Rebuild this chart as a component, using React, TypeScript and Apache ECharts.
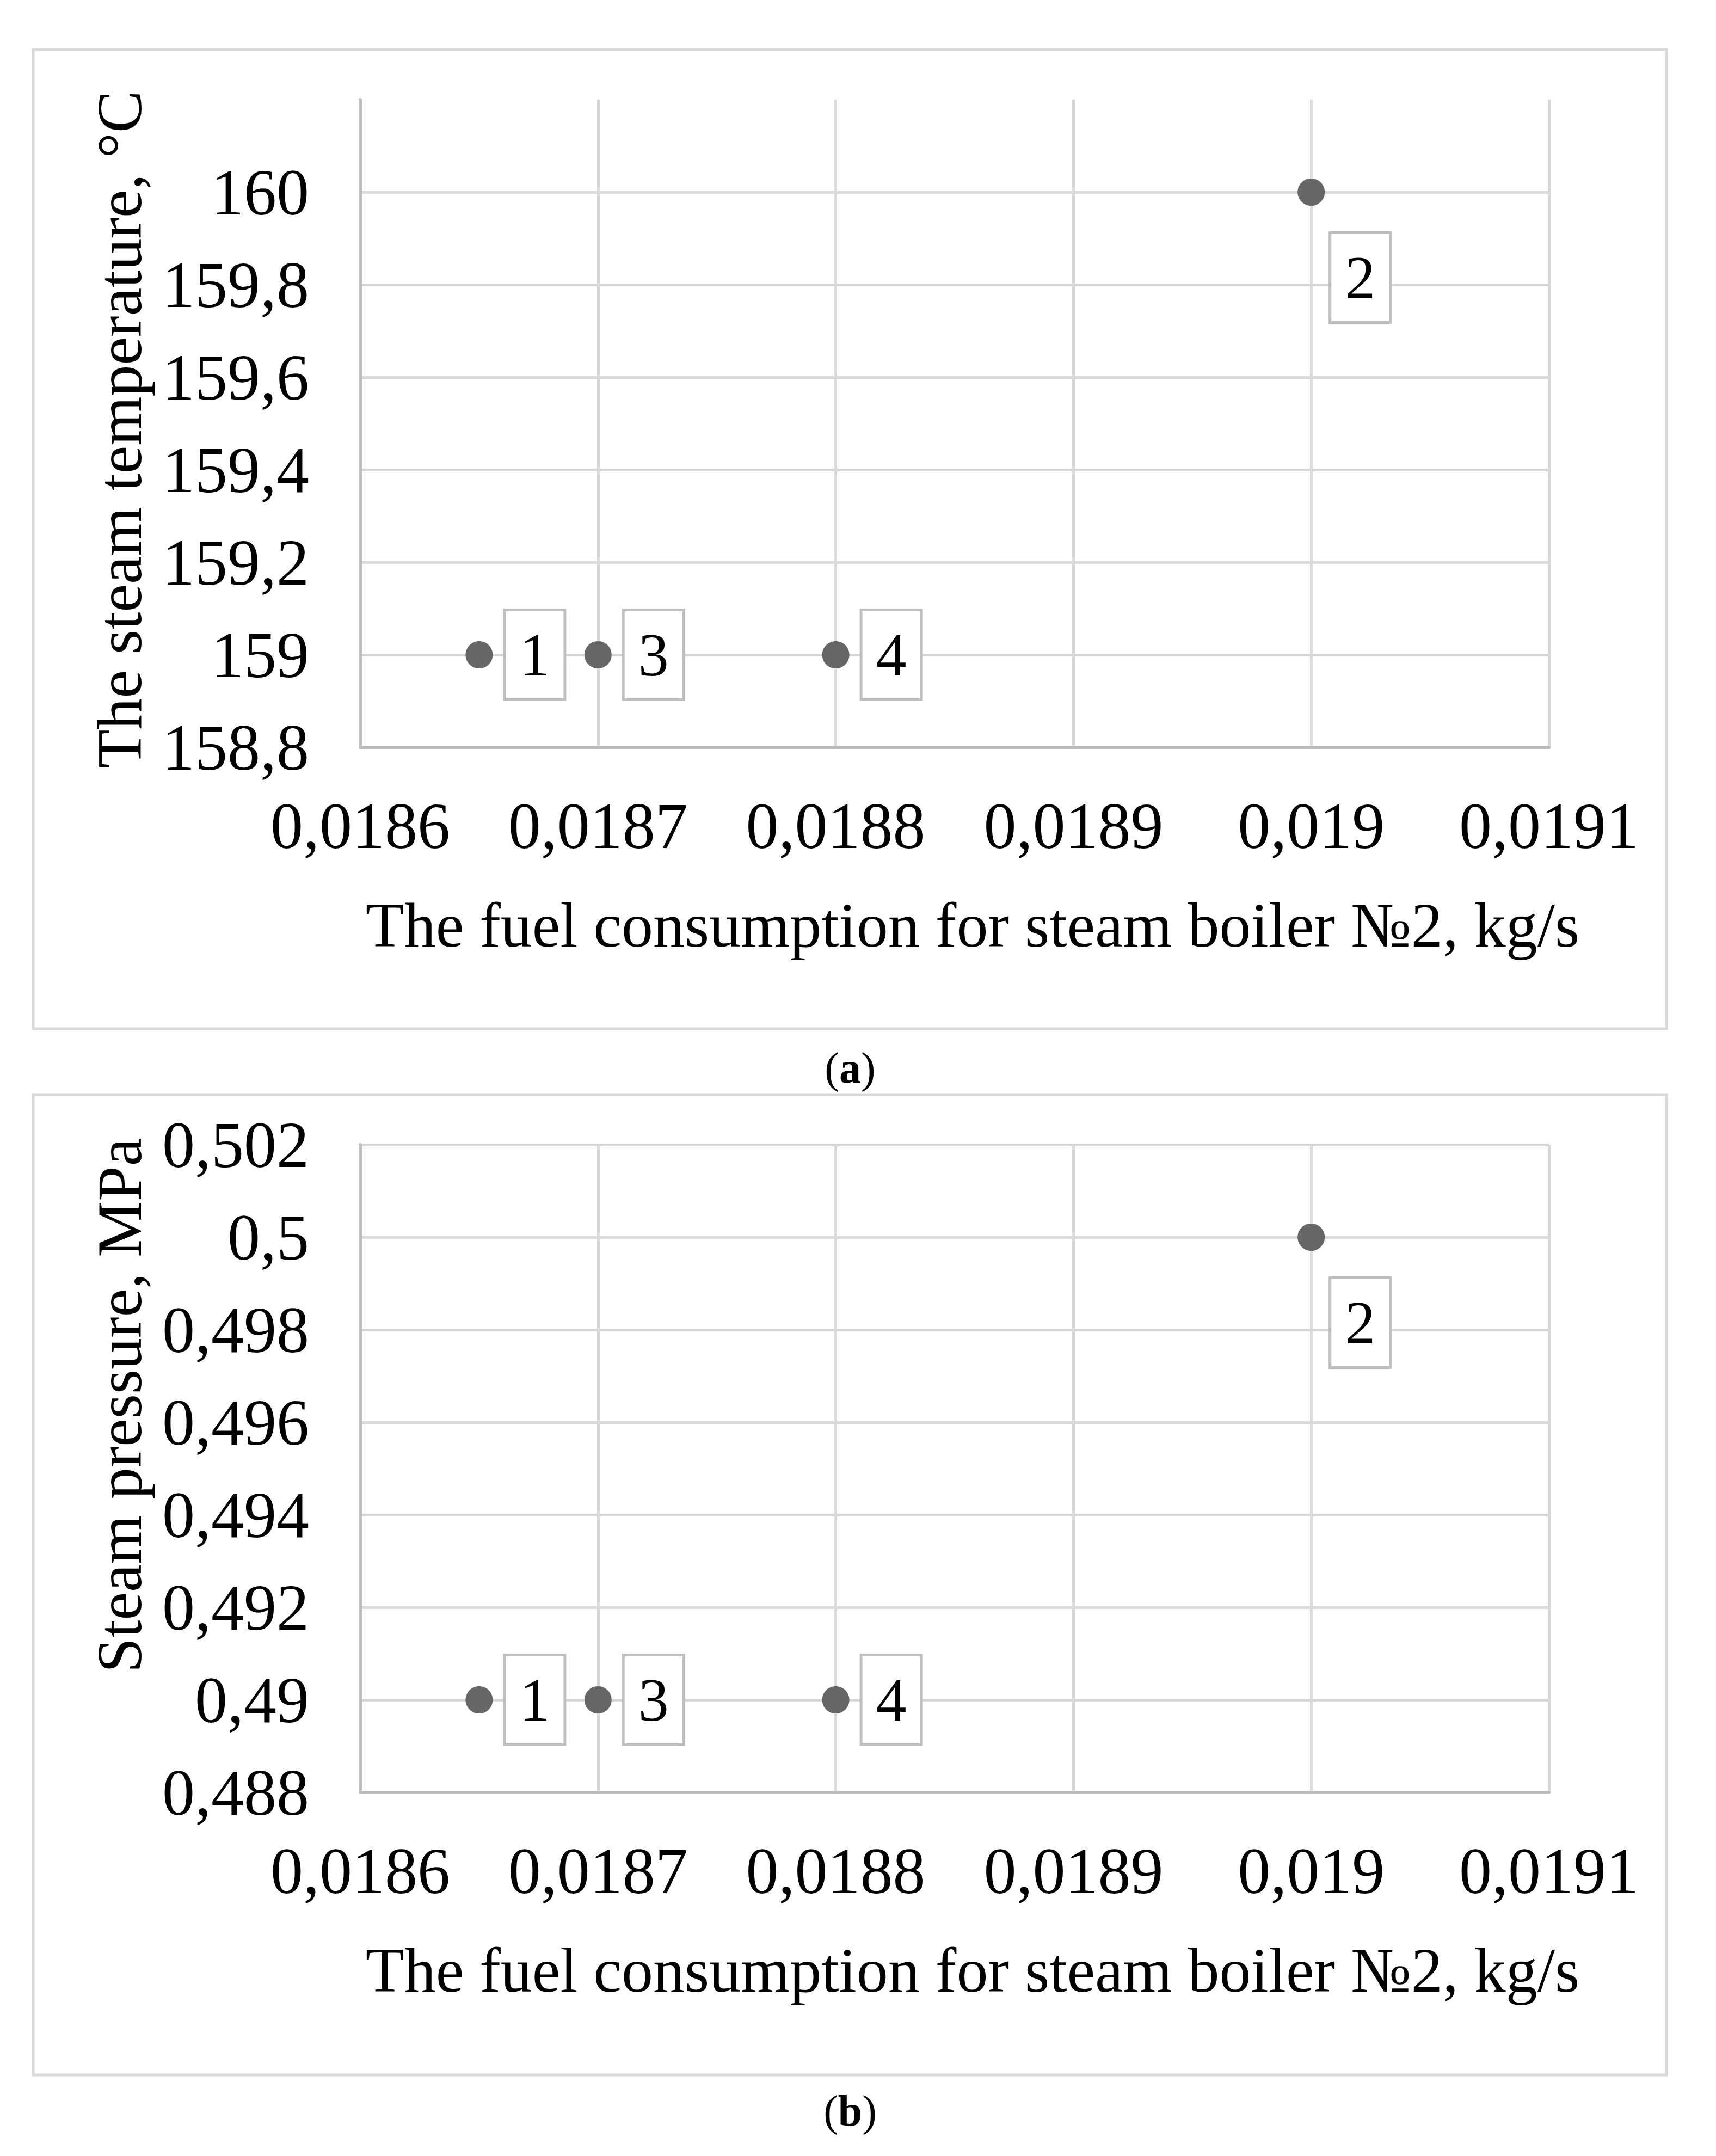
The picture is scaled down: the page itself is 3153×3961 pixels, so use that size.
import React, { useEffect, useRef } from "react";
import * as echarts from "echarts";

// ---- data ----
const pointIds = ["1", "2", "3", "4"];
const fuelConsumption = [0.01865, 0.019, 0.0187, 0.0188];
const steamTemperature = [159, 160, 159, 159];
const steamPressure = [0.49, 0.5, 0.49, 0.49];

const xTickLabels = ["0,0186", "0,0187", "0,0188", "0,0189", "0,019", "0,0191"];
const yTickLabelsA = ["158,8", "159", "159,2", "159,4", "159,6", "159,8", "160"];
const yTickLabelsB = ["0,488", "0,49", "0,492", "0,494", "0,496", "0,498", "0,5", "0,502"];

const xTitle = "The fuel consumption for steam boiler №2, kg/s";
const yTitleA = "The steam temperature, °C";
const yTitleB = "Steam pressure, MPa";

const W = 3153;
const H = 3961;
const FONT = "'Liberation Serif', 'Times New Roman', serif";
const TICK_FS = 120;
const TITLE_FS = 116;

function tickFormatter(labels: string[], min: number, interval: number) {
  return (v: number) => {
    const i = Math.round((v - min) / interval);
    return labels[i] ?? "";
  };
}

function buildXAxis(gridIndex: number) {
  return {
    type: "value",
    gridIndex,
    min: 0.0186,
    max: 0.0191,
    interval: 0.0001,
    axisLine: { show: true, lineStyle: { color: "#bfbfbf", width: 6 } },
    axisTick: { show: false },
    splitLine: { show: true, lineStyle: { color: "#d9d9d9", width: 5 } },
    axisLabel: {
      margin: 84,
      fontSize: TICK_FS,
      fontFamily: FONT,
      color: "#000",
      formatter: tickFormatter(xTickLabels, 0.0186, 0.0001),
    },
  };
}

function buildYAxis(gridIndex: number, min: number, max: number, interval: number, labels: string[], showMax: boolean) {
  return {
    type: "value",
    gridIndex,
    min,
    max,
    interval,
    axisLine: { show: true, lineStyle: { color: "#bfbfbf", width: 6 } },
    axisTick: { show: false },
    splitLine: { show: true, showMaxLine: showMax, lineStyle: { color: "#d9d9d9", width: 5 } },
    axisLabel: {
      margin: 94,
      fontSize: TICK_FS,
      fontFamily: FONT,
      color: "#000",
      showMaxLabel: showMax,
      formatter: tickFormatter(labels, min, interval),
    },
  };
}

function buildSeries(values: number[], axisIndex: number) {
  return {
    type: "scatter",
    xAxisIndex: axisIndex,
    yAxisIndex: axisIndex,
    symbol: "circle",
    symbolSize: 50,
    itemStyle: { color: "#666666", opacity: 1 },
    label: {
      show: true,
      position: "right",
      distance: 24,
      formatter: (p: any) => pointIds[p.dataIndex],
      fontSize: 112,
      lineHeight: 112,
      fontFamily: FONT,
      color: "#000",
      backgroundColor: "#ffffff",
      borderColor: "#bfbfbf",
      borderWidth: 5,
      padding: [24, 25],
    },
    data: fuelConsumption.map((x, i) => {
      const item: any = { value: [x, values[i]] };
      if (pointIds[i] === "2") {
        item.label = { position: [62, 102], align: "left", verticalAlign: "top" };
      }
      return item;
    }),
  };
}

export default function App() {
  const ref = useRef<HTMLDivElement>(null);

  useEffect(() => {
    document.body.style.margin = "0";
    if (!ref.current) return;
    const chart = echarts.init(ref.current, undefined, { renderer: "svg" });

    const offB = 1920;

    const caption = (letter: string, y: number) => ({
      type: "text",
      x: 1562,
      y,
      style: {
        text: `{p|(}{b|${letter}}{p|)}`,
        align: "center",
        verticalAlign: "middle",
        rich: {
          p: { fontSize: 80, fontFamily: FONT, fill: "#000", color: "#000" },
          b: { fontSize: 80, fontFamily: FONT, fontWeight: "bold", fill: "#000", color: "#000" },
        },
      },
    });

    const yTitle = (text: string, y: number) => ({
      type: "text",
      x: 220,
      y,
      rotation: Math.PI / 2,
      style: {
        text,
        fontSize: TITLE_FS,
        fontFamily: FONT,
        fill: "#000",
        align: "center",
        verticalAlign: "middle",
      },
    });

    const xTitleEl = (y: number) => ({
      type: "text",
      x: 1787,
      y,
      style: {
        text: xTitle,
        fontSize: TITLE_FS,
        fontFamily: FONT,
        fill: "#000",
        align: "center",
        verticalAlign: "middle",
      },
    });

    chart.setOption({
      animation: false,
      backgroundColor: "#ffffff",
      grid: [
        { left: 662, top: 183, width: 2184, height: 1190, outerBoundsMode: "none" },
        { left: 662, top: 183 + offB, width: 2184, height: 1190, outerBoundsMode: "none" },
      ],
      xAxis: [buildXAxis(0), buildXAxis(1)],
      yAxis: [
        buildYAxis(0, 158.8, 160.2, 0.2, yTickLabelsA, false),
        buildYAxis(1, 0.488, 0.502, 0.002, yTickLabelsB, true),
      ],
      series: [buildSeries(steamTemperature, 0), buildSeries(steamPressure, 1)],
      graphic: [
        {
          type: "rect",
          shape: { x: 61, y: 91, width: 3001, height: 1799 },
          style: { fill: "none", stroke: "#d9d9d9", lineWidth: 5 },
          z: -1,
        },
        {
          type: "rect",
          shape: { x: 61, y: 2011, width: 3001, height: 1801 },
          style: { fill: "none", stroke: "#d9d9d9", lineWidth: 5 },
          z: -1,
        },
        yTitle(yTitleA, 789),
        yTitle(yTitleB, 2582),
        xTitleEl(1700),
        xTitleEl(1700 + offB),
        caption("a", 1962),
        caption("b", 3878),
      ],
    });

    return () => chart.dispose();
  }, []);

  return <div ref={ref} style={{ width: W, height: H }} />;
}
